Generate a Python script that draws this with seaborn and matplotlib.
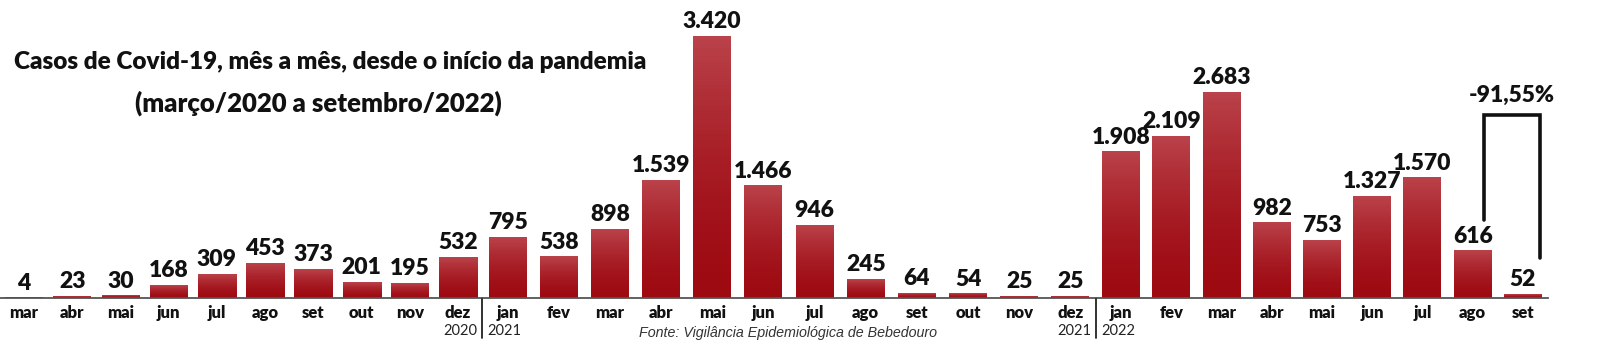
import numpy as np
import matplotlib
matplotlib.use("Agg")
import matplotlib.pyplot as plt
import seaborn as sns

# data
months_2020 = ["mar", "abr", "mai", "jun", "jul", "ago", "set", "out", "nov", "dez"]
cases_2020 = [4, 23, 30, 168, 309, 453, 373, 201, 195, 532]
months_2021 = ["jan", "fev", "mar", "abr", "mai", "jun", "jul", "ago", "set", "out", "nov", "dez"]
cases_2021 = [795, 538, 898, 1539, 3420, 1466, 946, 245, 64, 54, 25, 25]
months_2022 = ["jan", "fev", "mar", "abr", "mai", "jun", "jul", "ago", "set"]
cases_2022 = [1908, 2109, 2683, 982, 753, 1327, 1570, 616, 52]
years = ["2020", "2021", "2022"]
drop_label = "-91,55%"

sns.set_style("white")
plt.rcParams["font.family"] = ["Lato", "DejaVu Sans"]
HEAVY = 800

W, H = 1600, 357
fig = plt.figure(figsize=(W / 100, H / 100), dpi=100)

# gradient from dark red (bottom) to lighter red (top)
top_c = np.array([186, 66, 74]) / 255
bot_c = np.array([158, 10, 18]) / 255
t = np.linspace(0, 1, 64)[:, None] ** 1.6
grad = (bot_c * (1 - t) + top_c * t)[:, None, :]

bottom_px = 298
ax_bottom = 1 - bottom_px / H
ymax = 3890

groups = [
    (months_2020, cases_2020, 0, 482),
    (months_2021, cases_2021, 482, 1096),
    (months_2022, cases_2022, 1096, 1548),
]
axes = []
for months, cases, x0, x1 in groups:
    ax = fig.add_axes([x0 / W, ax_bottom, (x1 - x0) / W, 1 - ax_bottom])
    pitch = (x1 - x0) / len(months)
    sns.barplot(x=months, y=cases, ax=ax, color="#a50f17", width=38 / pitch,
                linewidth=0)
    ax.patch.set_alpha(0)
    for s in ["top", "left", "right"]:
        ax.spines[s].set_visible(False)
    ax.spines["bottom"].set_color("#555555")
    ax.spines["bottom"].set_linewidth(1.3)
    ax.spines["bottom"].set_zorder(3)
    ax.set_yticks([])
    ax.tick_params(axis="x", length=0, pad=5)
    for lab in ax.get_xticklabels():
        lab.set_fontweight(HEAVY)
        lab.set_fontsize(12)
        lab.set_color("#111111")
    for bar, v in zip(ax.patches, cases):
        bx, bw, bh = bar.get_x(), bar.get_width(), bar.get_height()
        bar.set_visible(False)
        ax.imshow(grad, extent=[bx, bx + bw, 0, bh], aspect="auto",
                  origin="lower", zorder=2)
        ax.annotate(f"{v:,}".replace(",", "."), (bx + bw / 2, bh),
                    xytext=(0, 3), textcoords="offset points",
                    ha="center", va="bottom", fontsize=16.5,
                    fontweight=HEAVY, color="#111111")
    ax.set_xlim(-0.5, len(months) - 0.5)
    ax.set_ylim(0, ymax)
    axes.append(ax)

# year separators and labels
for xs, left_year, right_year in [(482, years[0], years[1]), (1096, years[1], years[2])]:
    fig.add_artist(plt.Line2D([xs / W, xs / W], [1 - 299 / H, 1 - 338 / H],
                              color="#222222", lw=1.3))
    fig.text((xs - 5) / W, 1 - 331 / H, left_year, ha="right", va="center",
             fontsize=10.5, color="#222222")
    fig.text((xs + 5) / W, 1 - 331 / H, right_year, ha="left", va="center",
             fontsize=10.5, color="#222222")

# bracket showing ago -> set 2022 drop
ax3 = axes[2]
ago_i, set_i = 7, 8
top_y = 2390
ax3.plot([ago_i + 0.22, ago_i + 0.22, set_i + 0.34, set_i + 0.34],
         [cases_2022[ago_i] + 400, top_y, top_y, cases_2022[set_i] + 470],
         color="#111111", lw=2.6, clip_on=False, solid_joinstyle="miter",
         zorder=4)
ax3.text((ago_i + set_i) / 2 + 0.28, top_y + 120, drop_label, ha="center",
         va="bottom", fontsize=16.5, fontweight=HEAVY, color="#111111")
ax3.set_xlim(-0.5, len(months_2022) - 0.5)
ax3.set_ylim(0, ymax)

# title
fig.text(330 / W, 1 - 62 / H, "Casos de Covid-19, mês a mês, desde o início da pandemia",
         ha="center", va="center", fontsize=17.5, fontweight=HEAVY, color="#111111")
fig.text(318 / W, 1 - 103 / H, "(março/2020 a setembro/2022)",
         ha="center", va="center", fontsize=18.5, fontweight=HEAVY, color="#111111")

# source
fig.text(788 / W, 1 - 333 / H, "Fonte: Vigilância Epidemiológica de Bebedouro",
         ha="center", va="center", fontsize=10.3, style="italic",
         family=["Liberation Sans", "DejaVu Sans"], color="#333333")

fig.savefig("out.png", dpi=100, facecolor="white")
